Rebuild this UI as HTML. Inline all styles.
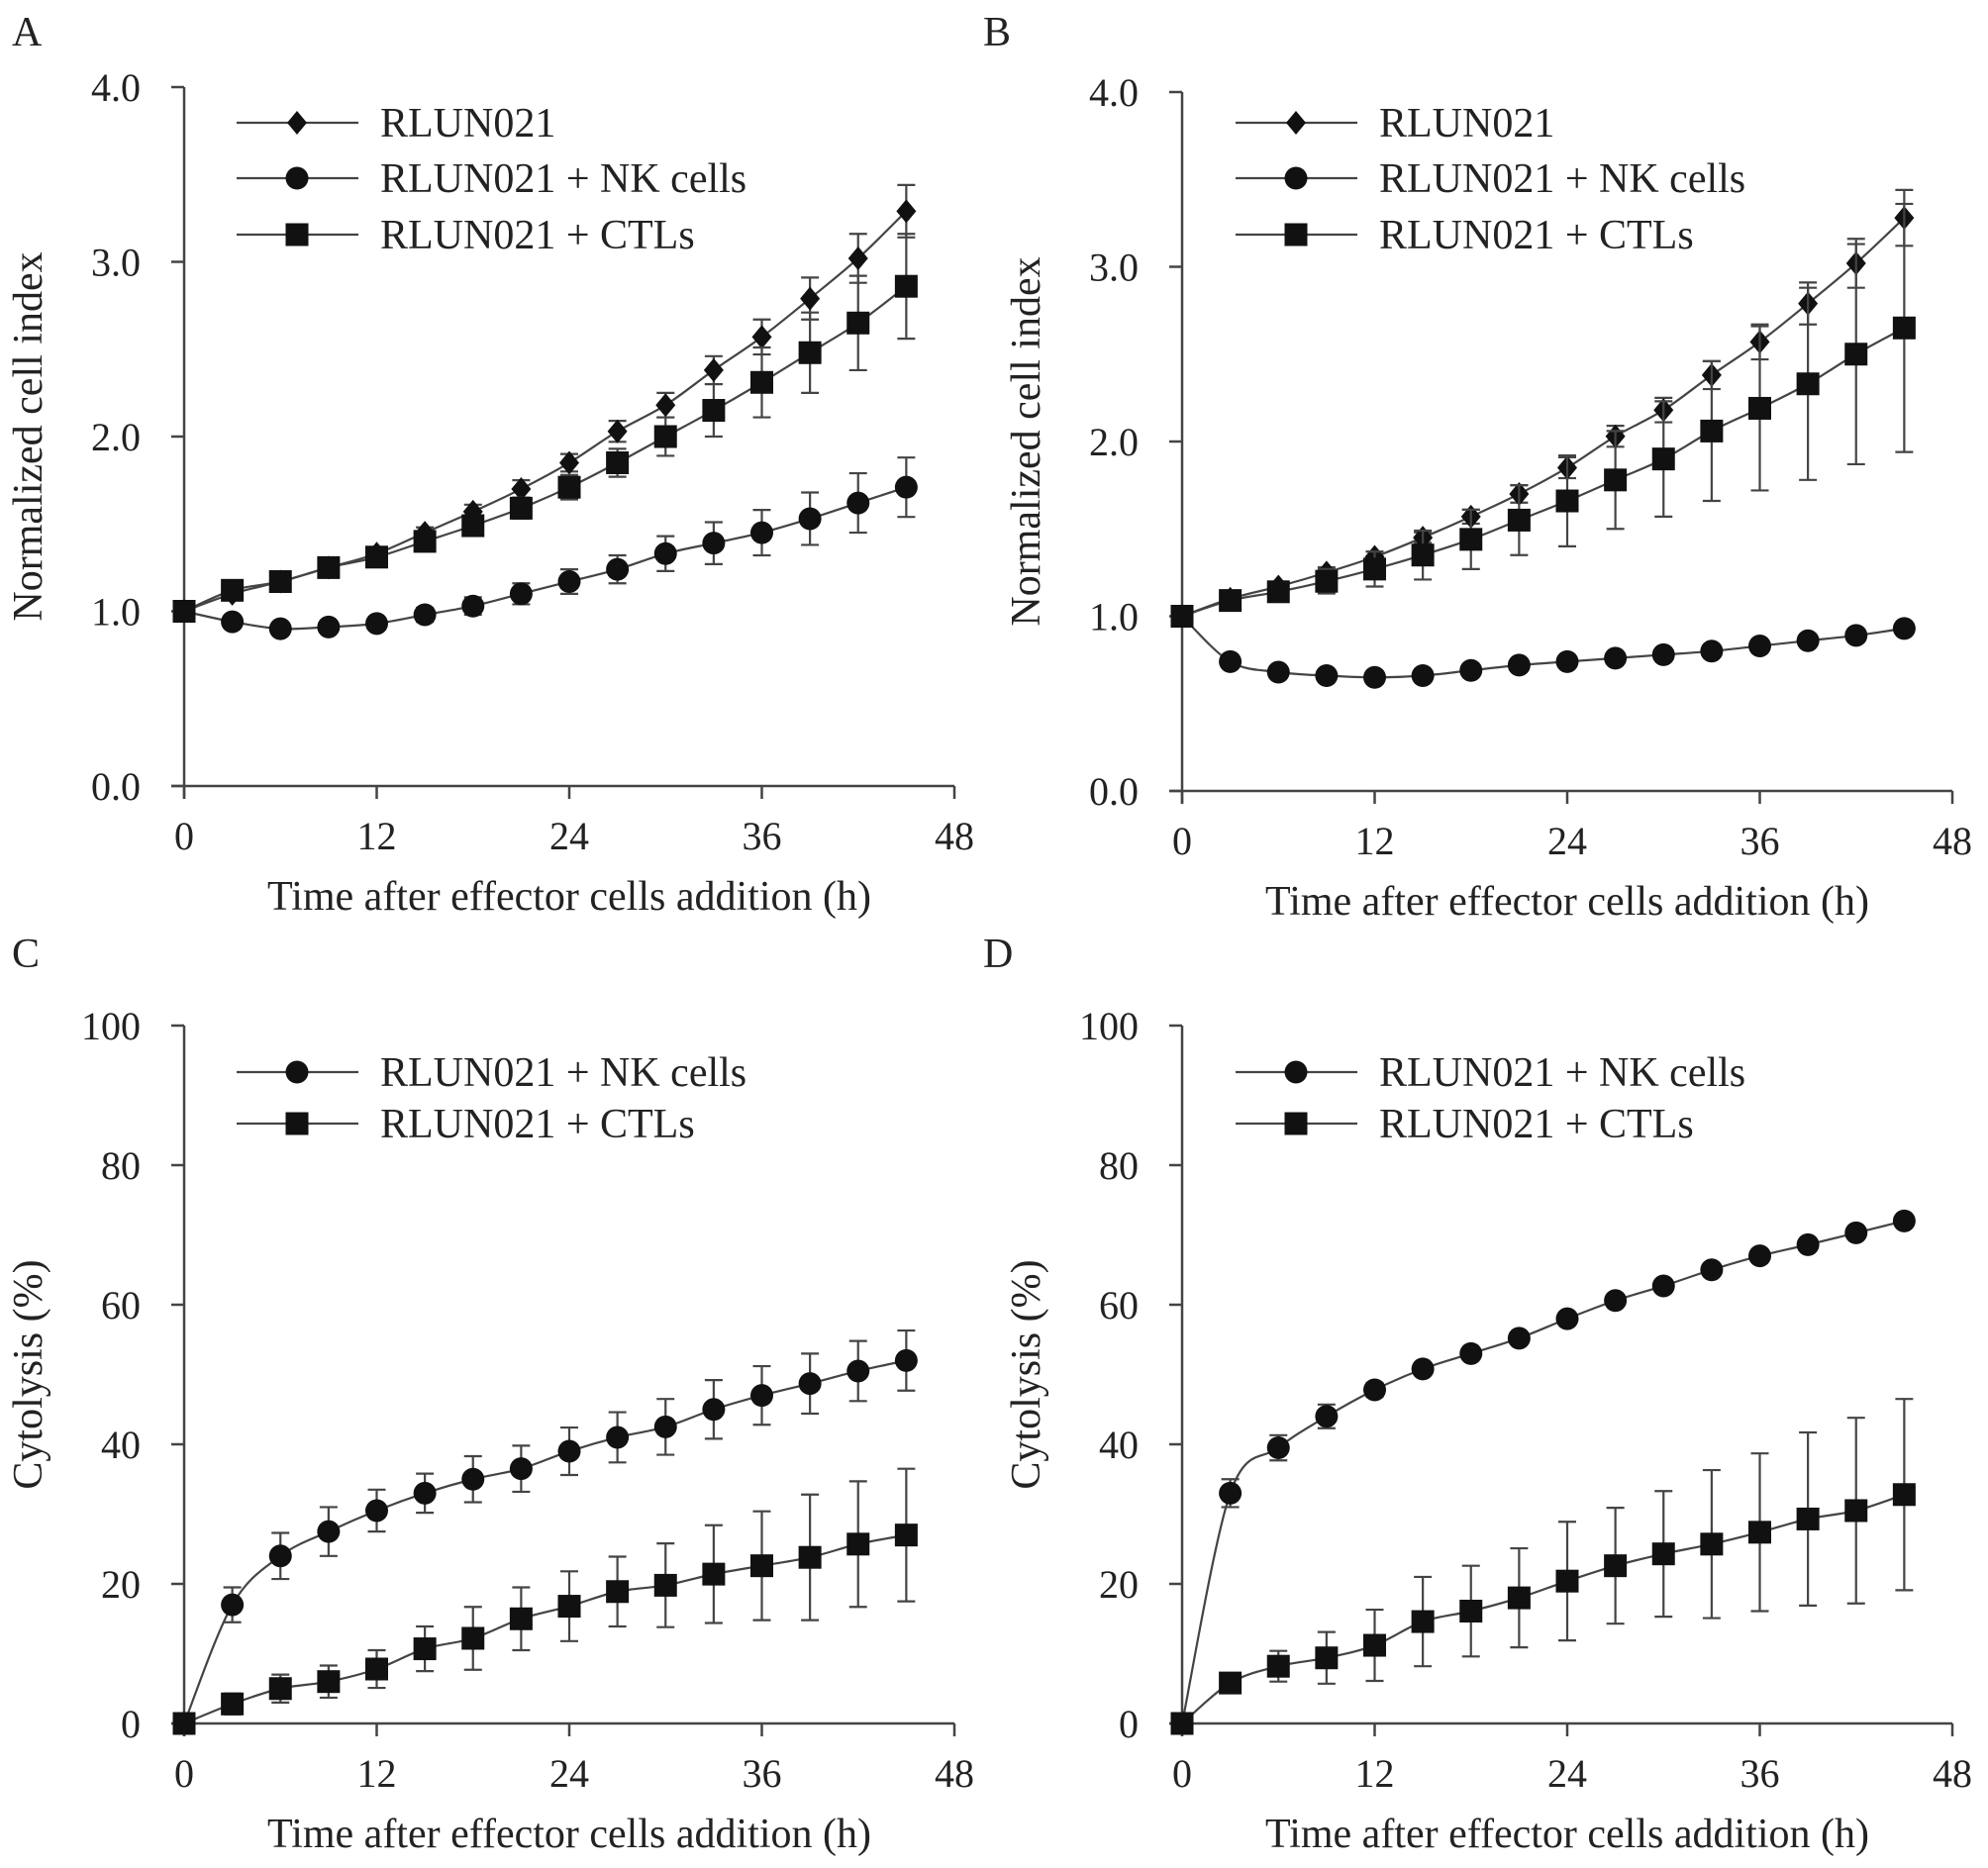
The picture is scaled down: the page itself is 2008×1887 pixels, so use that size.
<!DOCTYPE html>
<html><head><meta charset="utf-8"><style>
body{margin:0;background:#fff}
svg text{font-family:"Liberation Serif",serif;fill:#222}
</style></head><body>
<svg id="fig" width="2008" height="1882" viewBox="0 0 2008 1882" xmlns="http://www.w3.org/2000/svg"></svg>
<script>
const times=[0,3,6,9,12,15,18,21,24,27,30,33,36,39,42,45];
const xTicks=[0,12,24,36,48];
const yTicksAB=["0.0","1.0","2.0","3.0","4.0"];
const yTicksCD=["0","20","40","60","80","100"];
const aCtrl=[1.0,1.1,1.17,1.25,1.33,1.45,1.57,1.7,1.85,2.03,2.18,2.38,2.57,2.79,3.02,3.29];
const aCtrlErr=[0,.02,.02,.03,.03,.03,.04,.05,.05,.06,.07,.08,.1,.12,.14,.15];
const aNK=[1.0,0.94,0.9,0.91,0.93,0.98,1.03,1.1,1.17,1.24,1.33,1.39,1.45,1.53,1.62,1.71];
const aNKErr=[0,.02,.03,.03,.03,.04,.05,.06,.07,.08,.1,.12,.13,.15,.17,.17];
const aCTL=[1.0,1.12,1.17,1.25,1.31,1.4,1.49,1.59,1.71,1.85,2.0,2.15,2.31,2.48,2.65,2.86];
const aCTLErr=[.01,.02,.02,.03,.03,.04,.05,.06,.07,.08,.11,.15,.2,.23,.27,.3];
const bCtrl=[1.0,1.1,1.17,1.25,1.34,1.45,1.57,1.7,1.85,2.03,2.18,2.38,2.57,2.79,3.02,3.28];
const bCtrlErr=[0,.02,.02,.03,.03,.03,.04,.05,.06,.06,.07,.08,.1,.12,.14,.16];
const bNK=[1.0,0.74,0.68,0.66,0.65,0.66,0.69,0.72,0.74,0.76,0.78,0.8,0.83,0.86,0.89,0.93];
const bNKErr=[0,.02,.02,.02,.02,.02,.02,.02,.02,.02,.02,.02,.02,.02,.02,.02];
const bCTL=[1.0,1.09,1.14,1.2,1.27,1.35,1.44,1.55,1.66,1.78,1.9,2.06,2.19,2.33,2.5,2.65];
const bCTLErr=[0,.03,.05,.07,.1,.14,.17,.2,.26,.28,.33,.4,.47,.55,.63,.71];
const cNK=[0,17,24,27.5,30.5,33,35,36.5,39,41,42.5,45,47,48.7,50.5,52];
const cNKErr=[0,2.5,3.3,3.5,3,2.8,3.3,3.3,3.4,3.6,4,4.2,4.2,4.3,4.3,4.3];
const cCTL=[0,2.8,5,6,7.8,10.7,12.2,15,16.8,18.9,19.8,21.4,22.6,23.8,25.7,27];
const cCTLErr=[0,1.5,2,2.3,2.7,3.2,4.5,4.5,5,5,6,7,7.8,9,9,9.5];
const dNK=[0,33,39.5,44,47.8,50.8,53,55.2,58,60.6,62.7,65,67,68.6,70.3,72];
const dNKErr=[0,2,1.8,1.7,1,.8,.8,.8,.8,.8,.8,.8,.8,.8,.8,.8];
const dCTL=[0,5.8,8.2,9.4,11.2,14.6,16.1,18,20.4,22.6,24.3,25.7,27.4,29.3,30.5,32.8];
const dCTLErr=[0,.5,2.2,3.7,5.1,6.4,6.5,7.1,8.5,8.3,9,10.6,11.3,12.4,13.3,13.7];

const NS="http://www.w3.org/2000/svg";
const svg=document.getElementById('fig');
function mk(tag,attrs,parent){const e=document.createElementNS(NS,tag);for(const k in attrs)e.setAttribute(k,attrs[k]);(parent||svg).appendChild(e);return e;}
function smooth(pts){let d=`M${pts[0][0]},${pts[0][1]}`;for(let i=0;i<pts.length-1;i++){const p0=pts[i-1]||pts[i],p1=pts[i],p2=pts[i+1],p3=pts[i+2]||p2;const t=6;d+=` C${p1[0]+(p2[0]-p0[0])/t},${p1[1]+(p2[1]-p0[1])/t} ${p2[0]-(p3[0]-p1[0])/t},${p2[1]-(p3[1]-p1[1])/t} ${p2[0]},${p2[1]}`;}return d;}
function marker(g,type,x,y){
  if(type==='circle')return mk('circle',{cx:x,cy:y,r:11.5,fill:'#111'},g);
  if(type==='square')return mk('rect',{x:x-11.5,y:y-11.5,width:23,height:23,fill:'#111'},g);
  return mk('polygon',{points:`${x},${y-12} ${x+10},${y} ${x},${y+12} ${x-10},${y}`,fill:'#111'},g);
}
function panel(cfg){
  const g=mk('g',{});
  
  
  const {x0,x1,y0,y1,ymax}=cfg;
  const X=v=>x0+(x1-x0)*v/48, Y=v=>y0-(y0-y1)*v/ymax;
  const lt=mk('text',{x:cfg.lx,y:cfg.ly,'font-size':42},g);lt.textContent=cfg.letter;
  
  const ax=mk('g',{stroke:'#444','stroke-width':2.5,fill:'none'},g);
  
  mk('line',{x1:x0-13,y1:y0,x2:x1,y2:y0},ax);
  mk('line',{x1:x0,y1:y0+13,x2:x0,y2:y1},ax);
  xTicks.forEach(t=>{mk('line',{x1:X(t),y1:y0,x2:X(t),y2:y0+13},ax);
    const tx=mk('text',{x:X(t),y:y0+64,'font-size':40,'text-anchor':'middle'},g);tx.textContent=t;
    });
  cfg.yticks.forEach((t,i)=>{const v=ymax*i/(cfg.yticks.length-1);mk('line',{x1:x0-13,y1:Y(v),x2:x0,y2:Y(v)},ax);
    const ty=mk('text',{x:x0-44,y:Y(v)+14,'font-size':40,'text-anchor':'end'},g);ty.textContent=t;
    });
  const xt=mk('text',{x:(x0+x1)/2,y:y0+125,'font-size':42,'text-anchor':'middle'},g);xt.textContent='Time after effector cells addition (h)';
  
  const yc=(y0+y1)/2;
  const yt=mk('text',{x:cfg.ytx,y:yc,'font-size':42,'text-anchor':'middle',transform:`rotate(-90 ${cfg.ytx} ${yc})`},g);yt.textContent=cfg.ytitle;
  
  cfg.series.forEach((s,si)=>{
    const sg=mk('g',{},g);
    
    s.err.forEach((e,i)=>{if(e<=0)return;const x=X(times[i]);
      mk('path',{d:`M${x},${Y(s.vals[i]-e)}V${Y(s.vals[i]+e)}M${x-9},${Y(s.vals[i]-e)}H${x+9}M${x-9},${Y(s.vals[i]+e)}H${x+9}`,stroke:'#444','stroke-width':2.2,fill:'none'},sg);});
    mk('path',{d:smooth(s.vals.map((v,i)=>[X(times[i]),Y(v)])),stroke:'#444','stroke-width':2.2,fill:'none'},sg);
    s.vals.forEach((v,i)=>{const m=marker(sg,s.m,X(times[i]),Y(v));});
    const lg=mk('g',{},g);
    
    const ly=cfg.legY[si];
    mk('line',{x1:cfg.legX,y1:ly,x2:cfg.legX+123,y2:ly,stroke:'#444','stroke-width':2.2},lg);
    marker(lg,s.m,cfg.legX+61,ly);
    const tt=mk('text',{x:cfg.legX+145,y:ly+14,'font-size':42},lg);tt.textContent=s.label;
  });
}
const L0='RLUN021',L1='RLUN021 + NK cells',L2='RLUN021 + CTLs';
panel({name:'panel-a',letter:'A',lx:12,ly:46,x0:186,x1:964,y0:794,y1:88,ymax:4,yticks:yTicksAB,ytitle:'Normalized cell index',ytx:42,legX:239,legY:[124,180,237],
 series:[{key:'rlun021',m:'diamond',vals:aCtrl,err:aCtrlErr,label:L0},{key:'nk-cells',m:'circle',vals:aNK,err:aNKErr,label:L1},{key:'ctls',m:'square',vals:aCTL,err:aCTLErr,label:L2}]});
panel({name:'panel-b',letter:'B',lx:993,ly:46,x0:1194,x1:1972,y0:799,y1:93,ymax:4,yticks:yTicksAB,ytitle:'Normalized cell index',ytx:1050,legX:1248,legY:[124,180,237],
 series:[{key:'rlun021',m:'diamond',vals:bCtrl,err:bCtrlErr,label:L0},{key:'nk-cells',m:'circle',vals:bNK,err:bNKErr,label:L1},{key:'ctls',m:'square',vals:bCTL,err:bCTLErr,label:L2}]});
panel({name:'panel-c',letter:'C',lx:12,ly:977,x0:186,x1:964,y0:1741,y1:1036,ymax:100,yticks:yTicksCD,ytitle:'Cytolysis (%)',ytx:42,legX:239,legY:[1083,1135],
 series:[{key:'nk-cells',m:'circle',vals:cNK,err:cNKErr,label:L1},{key:'ctls',m:'square',vals:cCTL,err:cCTLErr,label:L2}]});
panel({name:'panel-d',letter:'D',lx:993,ly:977,x0:1194,x1:1972,y0:1741,y1:1036,ymax:100,yticks:yTicksCD,ytitle:'Cytolysis (%)',ytx:1050,legX:1248,legY:[1083,1135],
 series:[{key:'nk-cells',m:'circle',vals:dNK,err:dNKErr,label:L1},{key:'ctls',m:'square',vals:dCTL,err:dCTLErr,label:L2}]});
</script>
</body></html>
